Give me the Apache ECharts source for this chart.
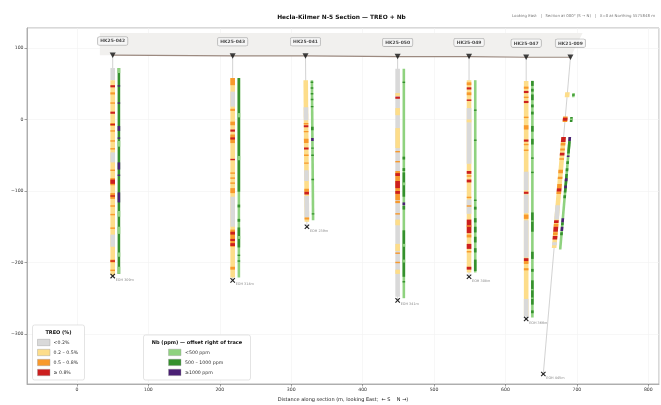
<!DOCTYPE html>
<html lang="en">
<head>
<meta charset="UTF-8">
<title>Hecla-Kilmer N-5 Section</title>
<script src="https://cdn.jsdelivr.net/npm/echarts@6/dist/echarts.min.js"></script>
<style>
    html, body { margin: 0; padding: 0; background: #fff; }
    #main { width: 661px; height: 405px; }
</style>
</head>
<body>
<div id="main"></div>
<script>
    // holes: collar / end of hole (distance along section, elevation)
    var holeNames = ['HK25-042', 'HK25-043', 'HK25-041', 'HK25-050', 'HK25-049', 'HK25-047', 'HK21-009'];
    var collarDist = [50, 218, 320, 449, 549, 629, 691];
    var collarElev = [90, 89, 89, 88, 88, 87, 87];
    var eohDist = [50, 218, 322, 449, 549, 629, 653];
    var eohElev = [-219, -225, -150, -253, -220, -279, -356];
    var holeLength = [309, 314, 239, 341, 308, 366, 445];

    // TREO intervals [from m, to m, class]  class 0:<0.2 1:0.2-0.5 2:0.5-0.8 3:>=0.8
    var treo042 = [[18,35,0],[35,308,1],[42,45,3],[52,55,2],[66,68,2],[79,82,3],[95,99,2],[96,98,3],[105,107,2],[119,121,2],[130,132,2],[136,150,0],[160,162,2],[172,182,2],[174,180,3],[193,201,2],[196,198,3],[210,212,2],[222,224,2],[241,243,2],[251,268,0],[286,290,2],[287,289,3],[300,302,2]];
    var treo043 = [[31,310,1],[31,41,2],[50,71,0],[74,77,2],[92,97,2],[103,106,3],[110,122,2],[114,117,3],[144,146,3],[163,165,2],[170,172,2],[177,179,2],[185,192,2],[197,239,0],[243,267,2],[246,250,3],[256,259,3],[262,266,3],[295,299,2]];
    var treo041 = [[34,232,1],[72,90,0],[94,96,2],[97,100,3],[105,107,2],[116,122,2],[128,131,3],[138,140,2],[149,151,2],[160,175,0],[186,190,2],[190,194,3],[196,226,0],[226,229,2]];
    var treo050 = [[17,336,0],[51,55,1],[56,59,3],[72,82,1],[100,128,1],[132,134,2],[146,148,2],[160,201,2],[163,167,3],[174,184,3],[188,192,3],[202,205,2],[219,221,2],[228,236,1],[262,272,1],[274,276,2],[287,289,2],[298,304,1]];
    var treo049 = [[33,302,1],[36,40,2],[43,46,3],[50,54,2],[60,62,3],[72,150,0],[88,92,1],[160,164,3],[166,168,2],[172,176,3],[196,198,2],[200,220,0],[208,210,2],[228,247,3],[236,238,2],[249,253,2],[262,269,3],[272,274,2],[294,298,3]];
    var treo047 = [[33,362,1],[41,44,2],[47,50,3],[55,57,2],[61,64,3],[83,85,2],[95,101,2],[115,118,3],[121,123,2],[129,131,2],[160,186,0],[188,191,3],[192,218,0],[220,226,2],[228,280,0],[281,285,3],[285,289,2],[295,298,2],[338,362,0]];
    var treo009 = [[49,56,1],[83,91,2],[85,89,3],[112,268,1],[112,119,3],[120,124,2],[128,131,2],[134,138,3],[142,144,2],[158,163,2],[168,171,2],[178,184,2],[184,189,3],[189,192,2],[208,228,0],[229,233,3],[234,238,2],[238,245,3],[246,250,2],[251,256,3],[260,264,0]];

    // Nb intervals [from m, to m, class]  class 0:<500 1:500-1000 2:>=1000
    var nb042 = [[18,306,1],[18,25,0],[42,44,2],[66,68,2],[99,106,2],[115,117,2],[120,128,0],[150,160,2],[167,169,2],[192,206,2],[218,226,0],[240,250,0],[276,282,0],[296,306,0]];
    var nb043 = [[31,310,0],[31,190,1],[80,86,0],[140,146,0],[208,212,1],[228,232,1],[240,268,1],[252,256,0],[278,280,1],[286,288,1]];
    var nb041 = [[34,230,0],[36,38,1],[44,46,1],[52,54,1],[60,62,1],[70,72,1],[99,104,1],[115,119,2],[128,130,1],[138,140,1],[172,174,1],[220,222,1]];
    var nb050 = [[17,338,0],[35,37,1],[140,144,1],[156,160,1],[162,196,1],[176,180,0],[204,208,2],[209,214,1],[243,308,1],[262,266,0],[284,288,0],[314,316,1]];
    var nb049 = [[33,302,0],[74,76,1],[116,118,1],[200,202,1],[210,214,1],[226,232,1],[238,246,1],[252,260,1],[268,274,1],[284,300,1]];
    var nb047 = [[33,364,0],[33,40,1],[44,48,1],[52,60,1],[66,70,1],[76,80,1],[96,104,1],[114,122,1],[140,142,1],[160,162,1],[217,244,1],[228,230,0],[272,282,1],[296,300,1],[312,346,1],[324,326,0],[336,338,0],[354,358,1]];
    var nb009 = [[50,56,0],[52,54,1],[84,91,1],[86,88,0],[112,270,0],[112,118,2],[118,135,1],[138,140,2],[146,150,1],[156,160,1],[164,190,1],[170,174,2],[180,184,2],[194,198,1],[226,232,2],[232,236,1],[238,244,2],[246,250,1]];

    var treoHoles = [treo042, treo043, treo041, treo050, treo049, treo047, treo009];
    var nbHoles = [nb042, nb043, nb041, nb050, nb049, nb047, nb009];

    var treoLabels = ['<0.2%', '0.2 – 0.5%', '0.5 – 0.8%', '≥ 0.8%'];
    var treoColors = ['#d9d9d9', '#fddd8a', '#f8992c', '#cc1f1f'];
    var nbLabels = ['<500 ppm', '500 – 1000 ppm', '≥1000 ppm'];
    var nbColors = ['#8fd27f', '#35902d', '#4a1f74'];

    var font = 'DejaVu Sans';

    // position along a straight hole trace at a downhole depth
    function pointAt(h, d) {
        var f = d / holeLength[h];
        return [collarDist[h] + (eohDist[h] - collarDist[h]) * f,
                collarElev[h] + (eohElev[h] - collarElev[h]) * f];
    }

    function flatten(holes) {
        var out = [];
        for (var h = 0; h < holes.length; h++) {
            for (var i = 0; i < holes[h].length; i++) {
                var iv = holes[h][i];
                out.push([h, iv[0], iv[1], iv[2]]);
            }
        }
        return out;
    }

    function intervalRenderer(colors, offset, width) {
        return function (params, api) {
            var h = api.value(0);
            var p0 = api.coord(pointAt(h, api.value(1)));
            var p1 = api.coord(pointAt(h, api.value(2)));
            var hw = width / 2;
            return {
                type: 'polygon',
                shape: {
                    points: [
                        [p0[0] + offset - hw, p0[1]], [p0[0] + offset + hw, p0[1]],
                        [p1[0] + offset + hw, p1[1]], [p1[0] + offset - hw, p1[1]]
                    ]
                },
                style: { fill: colors[api.value(3)] }
            };
        };
    }

    var collarPts = [];
    var holeIdx = [];
    for (var i = 0; i < holeNames.length; i++) {
        collarPts.push([collarDist[i], collarElev[i], holeNames[i]]);
        holeIdx.push([i]);
    }

    function minus(v) {
        return v < 0 ? '\u2212' + Math.abs(v) : String(v);
    }

    // title + legends
    var graphics = [];
    graphics.push({ type: 'text', x: 341.5, y: 17, style: { text: 'Hecla-Kilmer N-5 Section — TREO + Nb', font: 'bold 5.9px ' + font, fill: '#111', align: 'center', verticalAlign: 'middle' } });
    graphics.push({ type: 'text', x: 655, y: 16, style: { text: 'Looking East   |   Section at 000° (S → N)   |   X=0 at Northing 5575848 m', font: '3.9px ' + font, fill: '#777', align: 'right', verticalAlign: 'middle' } });

    graphics.push({ type: 'rect', shape: { x: 32.5, y: 325, width: 52, height: 55, r: 2 }, style: { fill: '#fff', stroke: '#d8d8d8', lineWidth: 0.7 }, z: 100 });
    graphics.push({ type: 'text', x: 58.5, y: 332.5, style: { text: 'TREO (%)', font: 'bold 5px ' + font, fill: '#111', align: 'center', verticalAlign: 'middle' }, z: 101 });
    for (var k = 0; k < treoLabels.length; k++) {
        graphics.push({ type: 'rect', shape: { x: 37.5, y: 339.3 + k * 10, width: 12.5, height: 6.4 }, style: { fill: treoColors[k], stroke: '#999', lineWidth: 0.4 }, z: 101 });
        graphics.push({ type: 'text', x: 53.5, y: 342.6 + k * 10, style: { text: treoLabels[k], font: '4.7px ' + font, fill: '#333', verticalAlign: 'middle' }, z: 101 });
    }

    graphics.push({ type: 'rect', shape: { x: 143.5, y: 335, width: 107, height: 45, r: 2 }, style: { fill: '#fff', stroke: '#d8d8d8', lineWidth: 0.7 }, z: 100 });
    graphics.push({ type: 'text', x: 197, y: 342.5, style: { text: 'Nb (ppm) — offset right of trace', font: 'bold 5px ' + font, fill: '#111', align: 'center', verticalAlign: 'middle' }, z: 101 });
    for (var k = 0; k < nbLabels.length; k++) {
        graphics.push({ type: 'rect', shape: { x: 168.5, y: 349.2 + k * 10, width: 12.5, height: 6.4 }, style: { fill: nbColors[k], stroke: '#999', lineWidth: 0.4 }, z: 101 });
        graphics.push({ type: 'text', x: 185, y: 352.5 + k * 10, style: { text: nbLabels[k], font: '4.7px ' + font, fill: '#333', verticalAlign: 'middle' }, z: 101 });
    }

    var myChart = echarts.init(document.getElementById('main'));
    var option = {
        animation: false,
        textStyle: { fontFamily: font },
        grid: {
            left: 27, right: 2, top: 28, bottom: 21,
            containLabel: false, outerBoundsMode: 'none',
            show: true, borderColor: '#a0a0a0', borderWidth: 0.8
        },
        xAxis: {
            type: 'value', min: -70, max: 815, splitNumber: 9,
            name: 'Distance along section (m, looking East;  ← S    N →)',
            nameLocation: 'middle', nameGap: 9.5,
            nameTextStyle: { fontSize: 5, color: '#222' },
            axisLine: { onZero: false, lineStyle: { color: '#a0a0a0', width: 0.8 } },
            axisTick: { length: 2.5, lineStyle: { color: '#666', width: 0.6 } },
            axisLabel: { fontSize: 4.6, color: '#333', margin: 3.5, showMinLabel: false, showMaxLabel: false, formatter: minus },
            splitLine: { show: true, lineStyle: { color: '#f1f1f1', width: 0.6 } }
        },
        yAxis: {
            type: 'value', min: -370, max: 128, splitNumber: 5,
            name: 'Elevation (m a.s.l.)',
            nameLocation: 'middle', nameGap: 18,
            nameTextStyle: { fontSize: 5, color: '#222' },
            axisLine: { show: true, onZero: false, lineStyle: { color: '#a0a0a0', width: 0.8 } },
            axisTick: { show: true, length: 2.5, lineStyle: { color: '#666', width: 0.6 } },
            axisLabel: { fontSize: 4.6, color: '#333', margin: 3.5, showMinLabel: false, showMaxLabel: false, formatter: minus },
            splitLine: { show: true, lineStyle: { color: '#f1f1f1', width: 0.6 } }
        },
        graphic: graphics,
        series: [
            {
                // label band above the surface
                type: 'custom', z: 1, silent: true,
                data: [[0]],
                renderItem: function (params, api) {
                    var pts = [api.coord([collarDist[0] - 18, 121])];
                    pts.push(api.coord([collarDist[collarDist.length - 1] + 17, 121]));
                    for (var i = collarDist.length - 1; i >= 0; i--) {
                        pts.push(api.coord([collarDist[i], collarElev[i]]));
                    }
                    pts.push(api.coord([collarDist[0] - 18, collarElev[0]]));
                    return { type: 'polygon', shape: { points: pts }, style: { fill: '#f1f0ee' } };
                }
            },
            {
                // hole traces
                type: 'custom', z: 2, silent: true,
                data: holeIdx,
                renderItem: function (params, api) {
                    var h = api.value(0);
                    var a = api.coord([collarDist[h], collarElev[h]]);
                    var b = api.coord([eohDist[h], eohElev[h]]);
                    return { type: 'line', shape: { x1: a[0], y1: a[1], x2: b[0], y2: b[1] }, style: { stroke: '#b4b4b4', lineWidth: 0.6 } };
                }
            },
            {
                name: 'surface', type: 'line', z: 3, silent: true,
                data: collarPts, symbol: 'none',
                lineStyle: { color: '#9c8a80', width: 1.1 }
            },
            {
                name: 'TREO', type: 'custom', z: 4, silent: true,
                data: flatten(treoHoles),
                renderItem: intervalRenderer(treoColors, 0, 4.6)
            },
            {
                name: 'Nb', type: 'custom', z: 4, silent: true,
                data: flatten(nbHoles),
                renderItem: intervalRenderer(nbColors, 6.2, 2.6)
            },
            {
                // end of hole markers
                type: 'custom', z: 5, silent: true,
                data: holeIdx,
                renderItem: function (params, api) {
                    var h = api.value(0);
                    var p = api.coord([eohDist[h], eohElev[h]]);
                    var s = 2.2;
                    return {
                        type: 'group',
                        children: [
                            { type: 'line', shape: { x1: p[0] - s, y1: p[1] - s, x2: p[0] + s, y2: p[1] + s }, style: { stroke: '#222', lineWidth: 1.1 } },
                            { type: 'line', shape: { x1: p[0] - s, y1: p[1] + s, x2: p[0] + s, y2: p[1] - s }, style: { stroke: '#222', lineWidth: 1.1 } },
                            { type: 'text', x: p[0] + 3, y: p[1] + 4, style: { text: 'EOH ' + holeLength[h] + 'm', font: '3.4px ' + font, fill: '#888', verticalAlign: 'middle' } }
                        ]
                    };
                }
            },
            {
                name: 'collars', type: 'scatter', z: 6, silent: true,
                data: collarPts,
                symbol: 'triangle', symbolRotate: 180, symbolSize: [6, 5.5],
                itemStyle: { color: '#111' },
                label: {
                    show: true, position: 'top', distance: 7.5,
                    formatter: function (p) { return p.data[2]; },
                    fontSize: 4.5, fontWeight: 'bold', color: '#222',
                    backgroundColor: '#f8f8f8', borderColor: '#9a9a9a', borderWidth: 0.6,
                    borderRadius: 1.5, padding: [1.6, 2.5, 1.2, 2.5]
                }
            }
        ]
    };
    myChart.setOption(option);
</script>
</body>
</html>
